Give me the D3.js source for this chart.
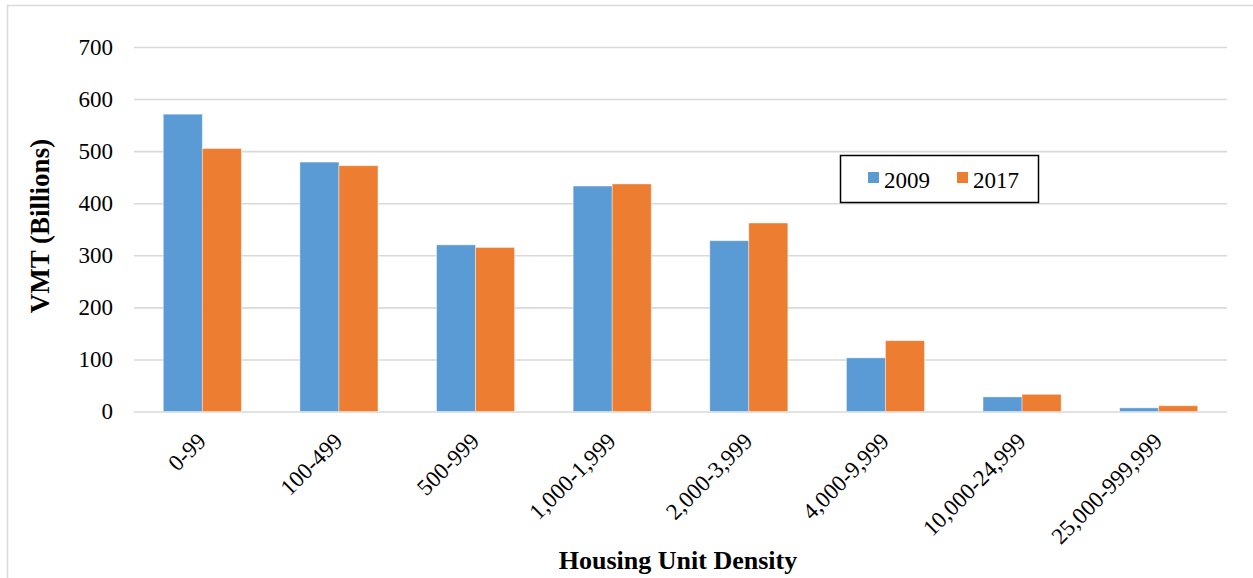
<!DOCTYPE html>
<html>
<head>
<meta charset="utf-8">
<script src="https://cdn.jsdelivr.net/npm/d3@7"></script>
<style>
  html, body { margin: 0; padding: 0; background: #fff; }
  svg { display: block; }
  svg text { font-family: "Liberation Serif", "Times New Roman", Tinos, "Nimbus Roman", "DejaVu Serif", serif !important; }
</style>
</head>
<body>
<svg id="chart" width="1253" height="578"></svg>
<script>
// Vehicle miles travelled by housing unit density, 2009 vs 2017
const categories = ["0-99", "100-499", "500-999", "1,000-1,999", "2,000-3,999", "4,000-9,999", "10,000-24,999", "25,000-999,999"];
const seriesNames = ["2009", "2017"];
const values2009 = [571, 479, 320, 433, 328, 103, 28, 7];
const values2017 = [505, 472, 315, 437, 362, 136, 33, 11];
const yTicks = [0, 100, 200, 300, 400, 500, 600, 700];
const colors = ["#5B9BD5", "#ED7D31"];

const svg = d3.select("#chart");
const W = 1253, H = 578;

// Outer chart frame
svg.append("rect")
  .attr("x", 7.5).attr("y", 5.5)
  .attr("width", W + 10).attr("height", H + 10)
  .attr("fill", "none").attr("stroke", "#d9d9d9").attr("stroke-width", 1.5);

const plot = { left: 134, right: 1227, top: 47, bottom: 411.5 };

const x = d3.scaleBand().domain(categories).range([plot.left, plot.right]).paddingInner(0).paddingOuter(0);
const bandW = x.bandwidth();
const barW = bandW / 3.5; // 150% gap width
const xs = d3.scaleBand().domain(seriesNames).range([0, barW * 2]);

const y = d3.scaleLinear().domain([0, 700]).range([plot.bottom, plot.top]);

// Horizontal gridlines and value labels
const yAxis = d3.axisLeft(y).tickValues(yTicks).tickSize(-(plot.right - plot.left)).tickPadding(21).tickFormat(d3.format("d"));
const gy = svg.append("g").attr("transform", `translate(${plot.left},0)`).call(yAxis);
gy.select(".domain").remove();
gy.selectAll(".tick line").attr("stroke", "#d9d9d9").attr("stroke-width", 1.6);
gy.selectAll(".tick text").attr("font-size", 23).attr("fill", "#000");

// Bars
const data = categories.map((c, i) => ({ cat: c, vals: [values2009[i], values2017[i]] }));
const groups = svg.append("g").selectAll("g").data(data).join("g")
  .attr("transform", d => `translate(${x(d.cat) + (bandW - barW * 2) / 2},0)`);
groups.selectAll("rect")
  .data(d => d.vals.map((v, j) => ({ key: seriesNames[j], v, j })))
  .join("rect")
  .attr("x", d => xs(d.key))
  .attr("width", xs.bandwidth())
  .attr("y", d => y(d.v))
  .attr("height", d => y(0) - y(d.v))
  .attr("fill", d => colors[d.j])
  .attr("stroke", "#ffffff").attr("stroke-opacity", 0.5).attr("stroke-width", 0.8);

// Category labels, rotated
const xAxis = d3.axisBottom(x).tickSize(0).tickPadding(0);
const gx = svg.append("g").attr("transform", `translate(0,${plot.bottom})`).call(xAxis);
gx.select(".domain").remove();
gx.selectAll(".tick text")
  .attr("font-size", 23).attr("fill", "#000")
  .attr("text-anchor", "end")
  .attr("y", 0).attr("dy", 0)
  .attr("transform", "translate(5,31) rotate(-45)");

// Axis titles
svg.append("text")
  .attr("transform", "translate(49,226) rotate(-90)")
  .attr("text-anchor", "middle")
  .attr("font-size", 27).attr("font-weight", "bold")
  .text("VMT (Billions)");

svg.append("text")
  .attr("x", 678).attr("y", 569)
  .attr("text-anchor", "middle")
  .attr("font-size", 26).attr("font-weight", "bold")
  .text("Housing Unit Density");

// Legend
const legend = svg.append("g").attr("transform", "translate(840,155)");
legend.append("rect")
  .attr("x", 0.5).attr("y", 0.5).attr("width", 198).attr("height", 47)
  .attr("fill", "#fff").attr("stroke", "#000").attr("stroke-width", 1.5);
const items = legend.selectAll("g.item").data(seriesNames).join("g")
  .attr("class", "item")
  .attr("transform", (d, i) => `translate(${28 + i * 89},0)`);
items.append("rect")
  .attr("x", 0).attr("y", 17).attr("width", 11).attr("height", 11)
  .attr("fill", (d, i) => colors[i]);
items.append("text")
  .attr("x", 16).attr("y", 33)
  .attr("font-size", 23).attr("fill", "#000")
  .text(d => d);
</script>
</body>
</html>
